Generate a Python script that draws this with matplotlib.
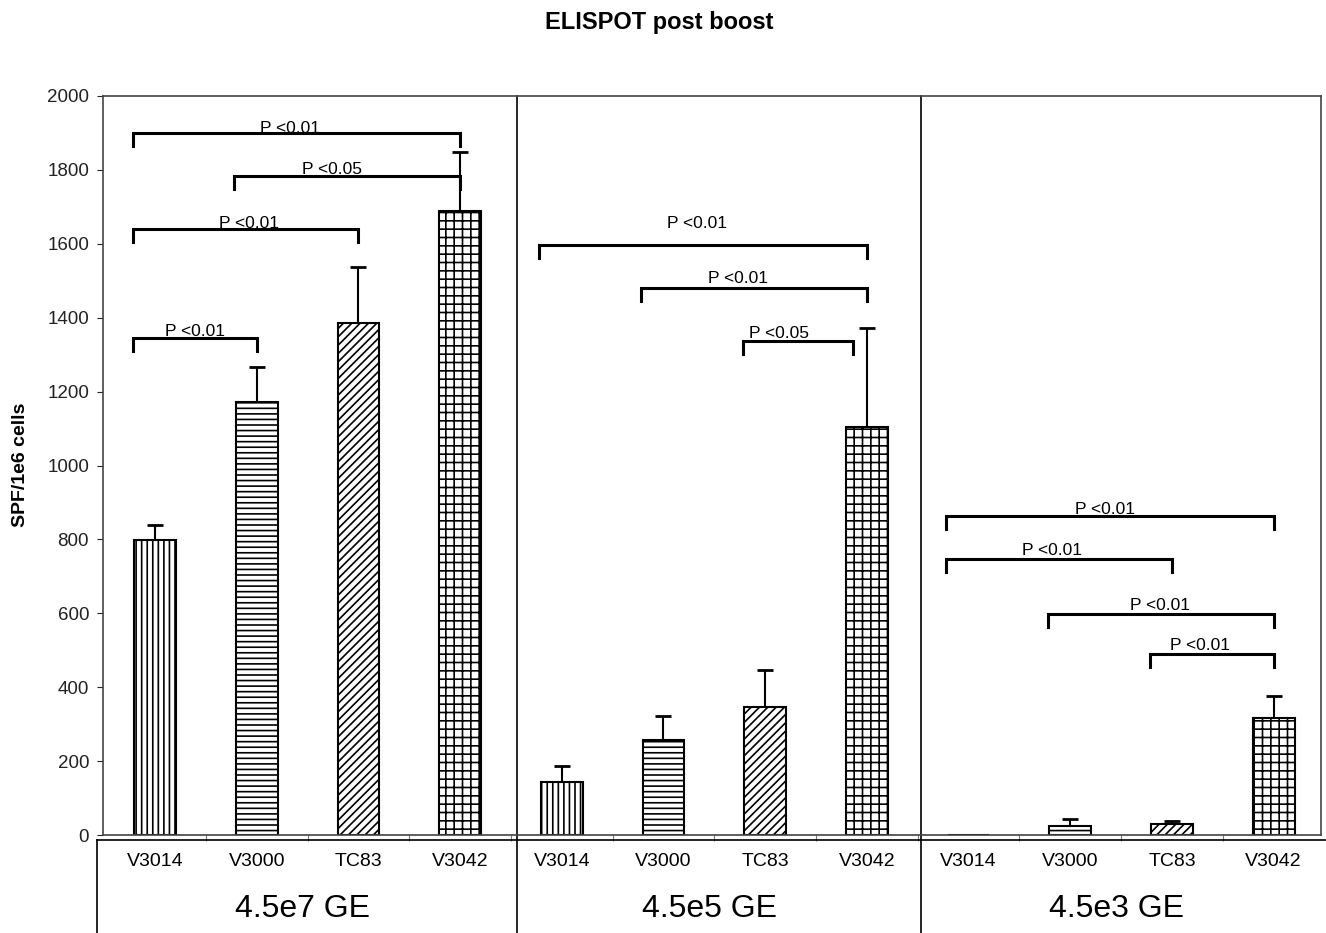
import numpy as np
import matplotlib.pyplot as plt

plt.rcParams["font.family"] = ["Liberation Sans", "DejaVu Sans"]
plt.rcParams["hatch.linewidth"] = 1.2

title = "ELISPOT post boost"
ylabel = "SPF/1e6 cells"
viruses = ["V3014", "V3000", "TC83", "V3042"]
doses = ["4.5e7 GE", "4.5e5 GE", "4.5e3 GE"]
hatches = ["|||", "---", "////", "++"]

# mean SPF/1e6 cells per virus, one list per dose
spf_4e7 = [798, 1171, 1385, 1690]
spf_4e5 = [144, 257, 347, 1103]
spf_4e3 = [0, 24, 30, 317]
# upper error bars
err_4e7 = [42, 95, 152, 158]
err_4e5 = [43, 65, 100, 268]
err_4e3 = [0, 19, 8, 60]

# significance brackets: (bar a, bar b, label), bars numbered 0..11 left to right
comparisons = [
    (0, 3, "P <0.01"), (1, 3, "P <0.05"), (0, 2, "P <0.01"), (0, 1, "P <0.01"),
    (4, 7, "P <0.01"), (5, 7, "P <0.01"), (6, 7, "P <0.05"),
    (8, 11, "P <0.01"), (8, 10, "P <0.01"), (9, 11, "P <0.01"), (10, 11, "P <0.01"),
]

# layout of the brackets
bracket_y = [1900, 1783, 1640, 1344, 1597, 1480, 1337, 862, 748, 599, 490]
right_trim = [0, 0, 0, 0, 0, 0, 0.14, 0, 0, 0, 0]
label_xy = [(1.33, 1913), (1.74, 1802), (0.92, 1654), (0.39, 1364),
            (5.33, 1654), (5.73, 1505), (6.14, 1356),
            (9.34, 880), (8.82, 769), (9.88, 622), (10.28, 514)]
leg = 35

heights = np.array(spf_4e7 + spf_4e5 + spf_4e3)
errors = np.array(err_4e7 + err_4e5 + err_4e3)
x = np.arange(len(heights))
n = len(viruses)

fig = plt.figure(figsize=(13.26, 9.33), dpi=100)
ax = fig.add_axes([103 / 1326, 98 / 933, 1218 / 1326, 739 / 933])

for k in range(n):
    idx = x[k::n]
    ax.bar(idx, heights[k::n], width=0.41, color="white", edgecolor="black",
           linewidth=1.5, hatch=hatches[k], zorder=2)

has_err = errors > 0
ax.errorbar(x[has_err], heights[has_err],
            yerr=[np.zeros(has_err.sum()), errors[has_err]],
            fmt="none", ecolor="black", elinewidth=1.5, capsize=5.5,
            capthick=2, zorder=1)

for (a, b, label), y, trim, (tx, ty) in zip(comparisons, bracket_y, right_trim, label_xy):
    x0, x1 = a - 0.22, b - trim
    ax.plot([x0, x0, x1, x1], [y - leg, y, y, y - leg], color="black",
            lw=2.2, solid_joinstyle="miter", zorder=3)
    ax.text(tx, ty, label, ha="center", va="center", fontsize=12.5, zorder=4)

ax.set_xlim(-0.511, 11.465)
ax.set_ylim(0, 2000)
ax.set_yticks(np.arange(0, 2001, 200))
ax.tick_params(axis="y", labelsize=13.5, length=4, width=0.8, pad=6, colors="#222")
ax.set_xticks(np.arange(11) + 0.5)
ax.set_xticklabels([])
ax.tick_params(axis="x", length=4, width=0.8, colors="#777")
for s in ax.spines.values():
    s.set_color("#444")
    s.set_linewidth(1.2)

# group dividers and the label table under the axis
tr = ax.get_xaxis_transform()
for xd in [3.56, 7.53]:
    ax.plot([xd, xd], [1, -0.15], transform=tr, clip_on=False, color="black", lw=1.2)
ax.plot([-0.57, 11.6], [-0.007, -0.007], transform=tr, clip_on=False, color="black", lw=1.2)
ax.plot([-0.57, -0.57], [-0.007, -0.15], transform=tr, clip_on=False, color="black", lw=1.2)

for k in x:
    ax.text(k, -0.0365, viruses[k % n], transform=tr, ha="center", va="center",
            fontsize=14)
for g, dose in enumerate(doses):
    ax.text(x[g * n:(g + 1) * n].mean() - 0.05, -0.100, dose, transform=tr,
            ha="center", va="center", fontsize=23)

fig.text(0.497, 0.976, title, ha="center", va="center", fontsize=17,
         fontweight="bold")
fig.text(21 / 1326, 1 - 465 / 933, ylabel, ha="center", va="center",
         rotation=90, fontsize=14, fontweight="bold")

fig.savefig("out.png", dpi=100)
